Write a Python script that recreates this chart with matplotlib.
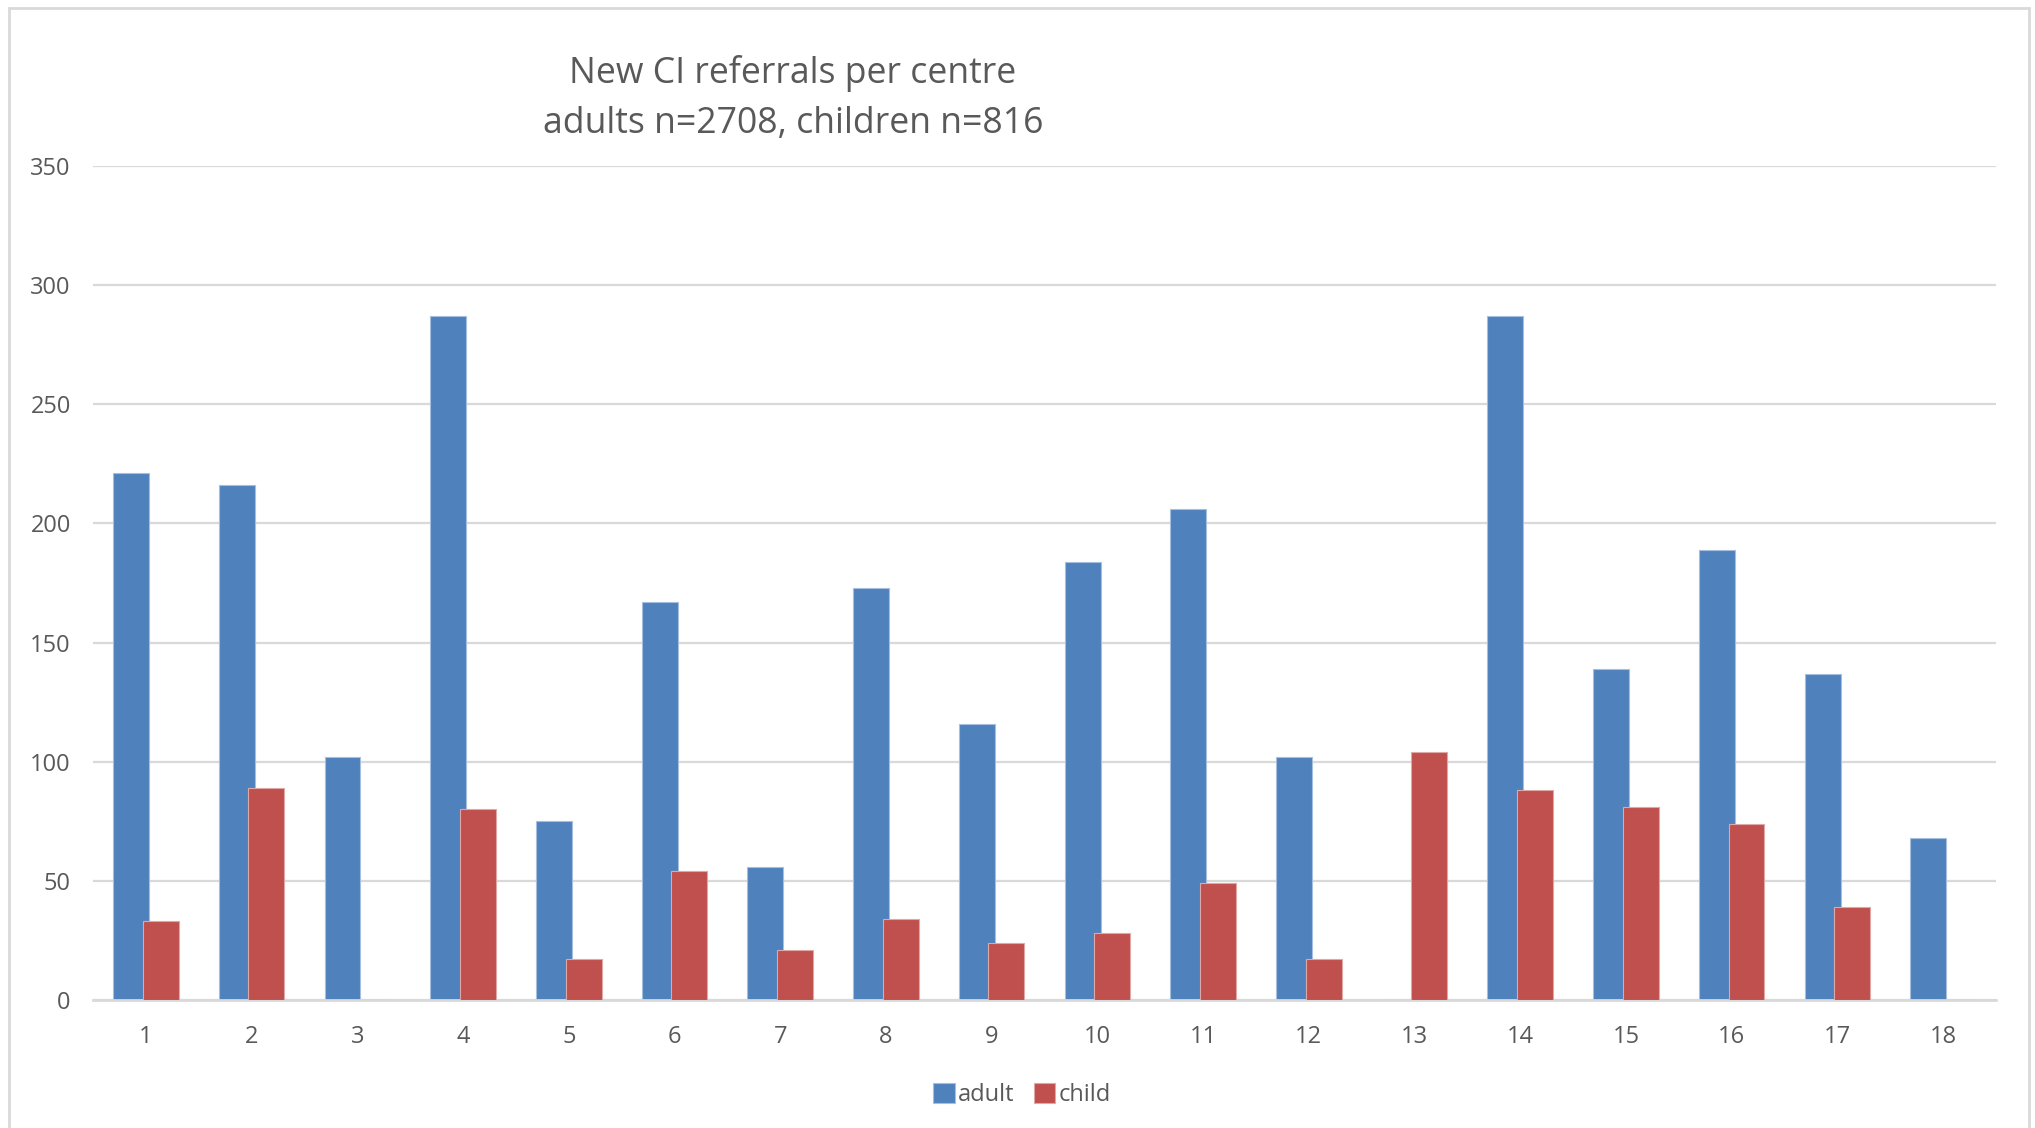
import matplotlib
matplotlib.use("Agg")
import matplotlib.pyplot as plt
import numpy as np
from matplotlib.patches import Rectangle

centres = [str(i) for i in range(1, 19)]
adult = [221, 216, 102, 287, 75, 167, 56, 173, 116, 184, 206, 102, 0, 287, 139, 189, 137, 68]
child = [33, 89, 0, 80, 17, 54, 21, 34, 24, 28, 49, 17, 104, 88, 81, 74, 39, 0]
yticks = [0, 50, 100, 150, 200, 250, 300, 350]

blue = "#4F81BD"
red = "#C0504D"
grey_txt = "#595959"
grid_c = "#D9D9D9"

plt.rcParams['font.family'] = ['Open Sans', 'DejaVu Sans']

fig = plt.figure(figsize=(20.35, 11.28), dpi=100)
ax = fig.add_axes([93 / 2035, 1 - 1000 / 1128, (1996 - 93) / 2035, (1000 - 166) / 1128])

# outer chart frame
fig.patches.append(Rectangle((9 / 2035, -0.05), (2029 - 9) / 2035, 1.05 - 8 / 1128,
                             transform=fig.transFigure, fill=False,
                             edgecolor=grid_c, linewidth=2))

x = np.arange(len(centres))
w = 0.34
ax.bar(x - 0.14, adult, w, color=blue, edgecolor="#A7BFDE", linewidth=0.8, label="adult", zorder=2)
ax.bar(x + 0.14, child, w, color=red, edgecolor="#DFA8A6", linewidth=0.8, label="child", zorder=3)

ax.set_xlim(-0.5, len(centres) - 0.5)
ax.set_ylim(0, 350)
ax.set_yticks(yticks)
ax.set_xticks(x)
ax.set_xticklabels(centres)
ax.tick_params(axis="both", length=0, labelsize=17, labelcolor=grey_txt)
ax.tick_params(axis="y", pad=16)
ax.tick_params(axis="x", pad=18)
ax.grid(axis="y", color=grid_c, linewidth=1.6, zorder=0)
ax.set_axisbelow(True)
for s in ["top", "right", "left"]:
    ax.spines[s].set_visible(False)
ax.spines["bottom"].set_color(grid_c)
ax.spines["bottom"].set_linewidth(2)

fig.text(793 / 2035, 1 - 73 / 1128, "New CI referrals per centre", ha="center", va="center",
         fontsize=25.7, color=grey_txt)
fig.text(793 / 2035, 1 - 124 / 1128, "adults n=2708, children n=816", ha="center", va="center",
         fontsize=25.7, color=grey_txt)

ax.legend(loc="center", bbox_to_anchor=(1022 / 2035, 1 - 1095 / 1128), bbox_transform=fig.transFigure,
          ncol=2, frameon=False, fontsize=17, labelcolor=grey_txt, handlelength=0.9, handleheight=0.9,
          handletextpad=0.15, columnspacing=0.8)

fig.savefig("out.png", dpi=100)
